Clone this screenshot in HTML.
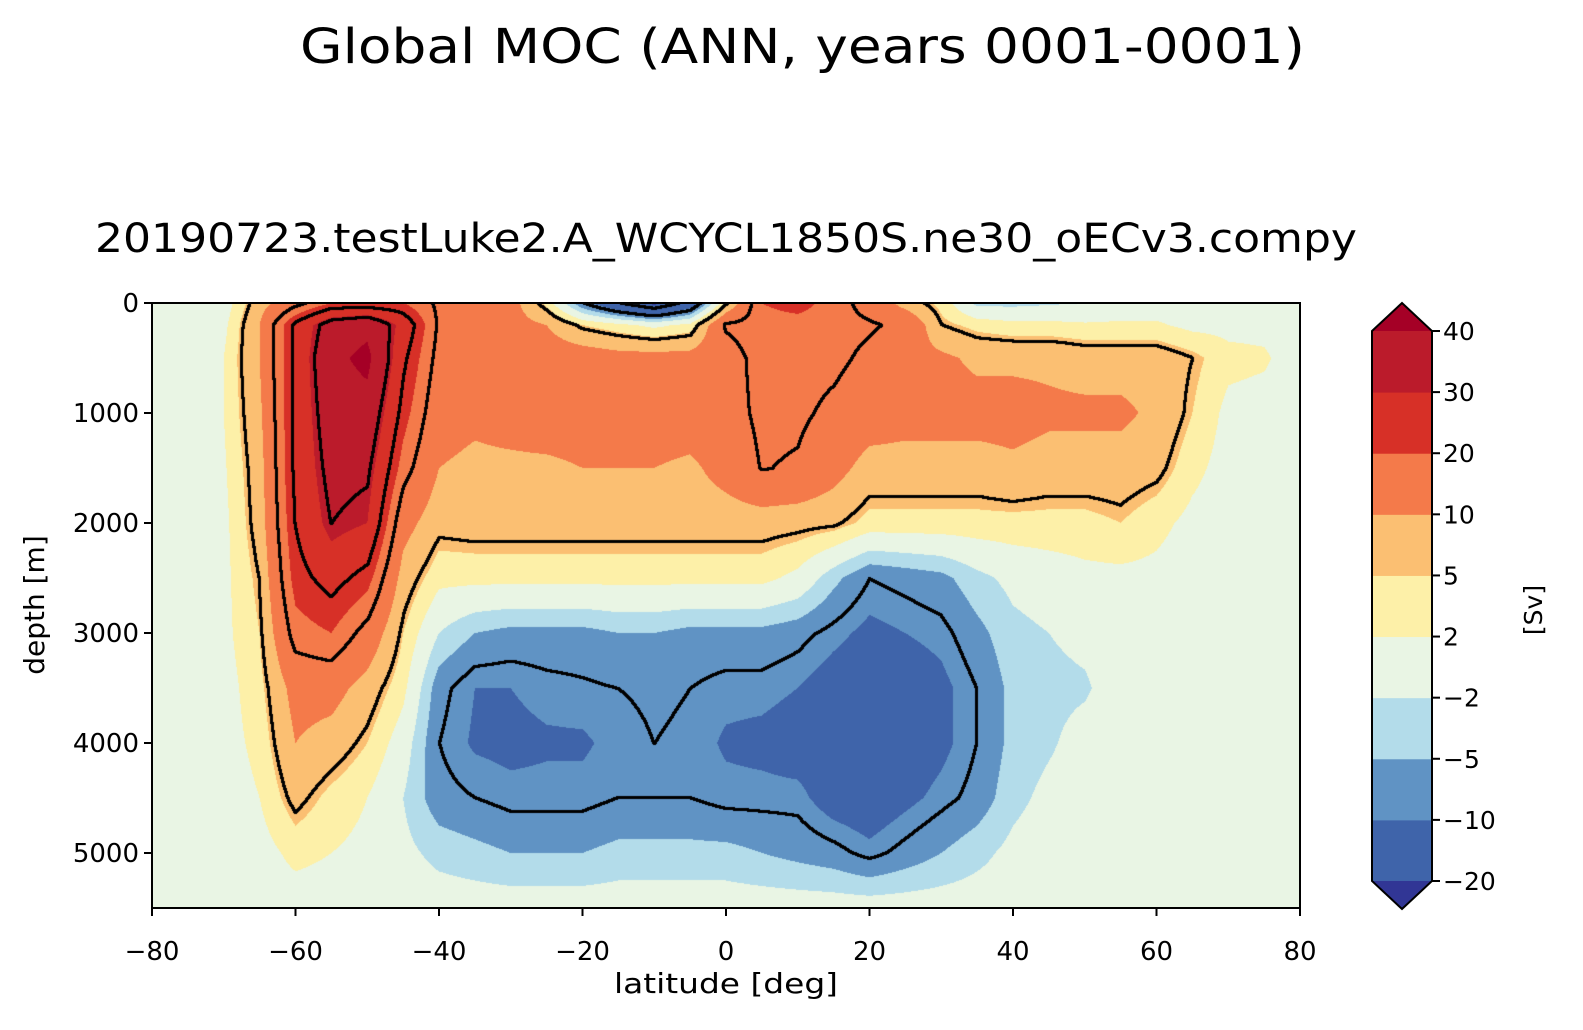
<!DOCTYPE html>
<html><head><meta charset="utf-8">
<style>
body{margin:0;background:#fff;width:1583px;height:1030px;position:relative;overflow:hidden;font-family:"DejaVu Sans","Liberation Sans",sans-serif;}
canvas{position:absolute;left:152px;top:303px;}
svg{position:absolute;left:0;top:0;}
</style></head>
<body>
<canvas id="field" width="1148" height="605"></canvas>
<svg id="ov" width="1583" height="1030">
<text x="300" y="63" font-size="48" textLength="1005" lengthAdjust="spacingAndGlyphs">Global MOC (ANN, years 0001-0001)</text>
<text x="95" y="252" font-size="40" textLength="1262" lengthAdjust="spacingAndGlyphs">20190723.testLuke2.A_WCYCL1850S.ne30_oECv3.compy</text>
<text x="614" y="993" font-size="28" textLength="224" lengthAdjust="spacingAndGlyphs">latitude [deg]</text>
<text x="44" y="605" font-size="28" text-anchor="middle" transform="rotate(-90 44 605)">depth [m]</text>
<text x="1542" y="610" font-size="25" text-anchor="middle" transform="rotate(-90 1542 610)">[Sv]</text>
<rect x="152" y="303" width="1148" height="605" fill="none" stroke="#000" stroke-width="2"/>
<g id="axes"></g>
<g id="cbar"></g>
</svg>
<script>
const lats=[-80,-75,-70,-65,-60,-55,-50,-45,-40,-35,-30,-25,-20,-15,-10,-5,0,5,10,15,20,25,30,35,40,45,50,55,60,65,70,75,80];
const depths=[0,200,500,1000,1500,2000,2500,3000,3500,4000,4500,5000,5500];
// moc[depthIndex][latIndex] in Sv
const moc=[
[0,0,0,8,14,20,20,20,15,12,12,4,-8,-16,-22,-14,5,20,22,18,14,8,4,-3,-3,-2.5,-2,0,0,0,0,0,0],
[0,0,1,10,25,35,38,28,15,13,12,10,5,3,1,3,16.5,18,18,17.5,16.5,15,6,4,3,3,2.5,2.5,2.5,1,1,1,0],
[0,0,2,10,25,38,42,25,14,12,13,13,13,12,12,12,14,17.5,17.5,17,15,12,11,9,9,9,8,8,8,6,3,2.5,0],
[0,0,2,9,25,36,37,22,12,11,12,13,13,13,13,13,14,17,16.8,15,13,12,12,12,12,11,11,11,9,5,1,0.5,0],
[0,0,1.5,8,25,34,33,18,10,9,9,9,10,10,10,9,12,16.2,15.5,12,8,8,8,8,9,8,8,8,7,3,0.5,0,0],
[0,0,1,7.5,24,32,30,12,7,7.5,7.5,7.5,7.5,7.5,7.5,7.5,7.5,7.5,7,6.5,4,4,4,4,4,4,4,5,3,1,0,0,0],
[0,0,1,6,22,26,22,8,3,3,3,3,3,3,3,3,3,3,1,-4,-8,-7,-6,-3,-1,0,1,1,1,0,0,0,0],
[0,0,1,5,18,20,14,5,-2,-5,-6,-6,-6,-5,-5,-6,-6,-6,-7,-9,-11,-10,-9,-6,-3,-2,-1,0,0,0,0,0,0],
[0,0,0.5,4,12,12,8,3,-7,-10,-10,-9,-8.5,-8,-7.5,-8,-9,-9,-10,-12,-13,-12.5,-11,-8,-4,-3,-2.5,0,0,0,0,0,0],
[0,0,0.5,3,10,8,5,0,-8,-10.5,-11,-10.5,-10.5,-9,-8,-8.5,-10.5,-11,-12,-13,-14,-13,-11,-8,-4,-2.5,-0.5,0,0,0,0,0,0],
[0,0,0,2,7,4,2,-2,-7,-8,-9,-9,-9,-8,-8,-8,-9,-9,-9,-12,-13,-11,-9,-7,-3,-1,0,0,0,0,0,0,0],
[0,0,0,0.5,3,2,1,-1,-3,-4,-5,-5,-5,-4,-4,-4,-4,-5,-6,-7,-9,-7,-5,-3,-1,0,0,0,0,0,0,0,0],
[0,0,0,0,0,0,0,0,0,0,0,0,0,0,0,0,0,0,0,0,0,0,0,0,0,0,0,0,0,0,0,0,0]
];
const levels=[-20,-10,-5,-2,2,5,10,20,30,40];
const colors=["#313695","#3f64aa","#6093c4","#b3dcea","#e9f5e4","#fdf0a8","#fbbf72","#f47a4a","#d73027","#bb1b2b","#a50026"];
const lineLevels=[-16,-8,6,16,24,32];
const xTicks=[-80,-60,-40,-20,0,20,40,60,80];
const yTicks=[0,1000,2000,3000,4000,5000];

const X0=152,X1=1300,Y0=303,Y1=908,DMAX=5500;
const xs=l=>X0+(l-lats[0])/(lats[lats.length-1]-lats[0])*(X1-X0);
const ys=d=>Y0+d/DMAX*(Y1-Y0);

function sample(lat,d){
  let i=0;while(i<lats.length-2&&lat>lats[i+1])i++;
  let j=0;while(j<depths.length-2&&d>depths[j+1])j++;
  const tx=Math.min(1,Math.max(0,(lat-lats[i])/(lats[i+1]-lats[i])));
  const ty=Math.min(1,Math.max(0,(d-depths[j])/(depths[j+1]-depths[j])));
  const a=moc[j][i],b=moc[j][i+1],c=moc[j+1][i],e=moc[j+1][i+1];
  return (a*(1-tx)+b*tx)*(1-ty)+(c*(1-tx)+e*tx)*ty;
}
function hex(h){return [parseInt(h.substr(1,2),16),parseInt(h.substr(3,2),16),parseInt(h.substr(5,2),16)];}
const rgb=colors.map(hex);
(function(){
  const cv=document.getElementById('field'),ctx=cv.getContext('2d');
  const W=cv.width,H=cv.height,img=ctx.createImageData(W,H);
  const cls=new Int8Array(W*H),lc=new Int8Array(W*H);
  for(let y=0;y<H;y++)for(let x=0;x<W;x++){
    const lat=lats[0]+(x+0.5)/W*(lats[lats.length-1]-lats[0]);
    const d=(y+0.5)/H*DMAX;
    const v=sample(lat,d);
    let k=0;while(k<levels.length&&v>=levels[k])k++;
    cls[y*W+x]=k;
    let m=0;while(m<lineLevels.length&&v>=lineLevels[m])m++;
    lc[y*W+x]=m;
  }
  const offs=[];
  for(let dy=-3;dy<=3;dy++)for(let dx=-3;dx<=3;dx++)if(dx*dx+dy*dy<=6)offs.push([dx,dy]);
  for(let y=0;y<H;y++)for(let x=0;x<W;x++){
    const p=y*W+x;let c=rgb[cls[p]];
    let edge=false;
    for(const o of offs){
      const xx=x+o[0],yy=y+o[1];
      if(xx<0||yy<0||xx>=W||yy>=H)continue;
      if(lc[yy*W+xx]!==lc[p]&&(lc[yy*W+xx]>lc[p]||o[0]*o[0]+o[1]*o[1]<=2)){edge=true;break;}
    }
    if(edge)c=[0,0,0];
    img.data[p*4]=c[0];img.data[p*4+1]=c[1];img.data[p*4+2]=c[2];img.data[p*4+3]=255;
  }
  ctx.putImageData(img,0,0);
})();
const NS='http://www.w3.org/2000/svg';
function mk(tag,attrs,parent){const e=document.createElementNS(NS,tag);for(const k in attrs)e.setAttribute(k,attrs[k]);parent.appendChild(e);return e;}
const axes=document.getElementById('axes');
xTicks.forEach(t=>{
  const x=xs(t);
  const ln=mk('line',{x1:x,x2:x,y1:Y1,y2:Y1+8,stroke:'#000','stroke-width':2},axes);
  
  
  const tx=mk('text',{x:x,y:960,'font-size':26,'text-anchor':'middle'},axes);
  tx.textContent=String(t).replace('-','\u2212');
  
  
});
yTicks.forEach(t=>{
  const y=ys(t);
  const ln=mk('line',{x1:X0-8,x2:X0,y1:y,y2:y,stroke:'#000','stroke-width':2},axes);
  
  
  const tx=mk('text',{x:X0-13,y:y+9,'font-size':26,'text-anchor':'end'},axes);
  tx.textContent=t;
  
  
});
// colorbar
const cb=document.getElementById('cbar');
const CX0=1372,CX1=1432,CT=331,CB=881;
const n=levels.length-1;const step=(CB-CT)/n;
const cy=i=>CB-i*step;
for(let i=0;i<n;i++){
  const r=mk('rect',{x:CX0,y:cy(i+1),width:CX1-CX0,height:step+0.5,fill:colors[i+1]},cb);
  
  
}
const tt=mk('polygon',{points:`${CX0},${CT} ${CX1},${CT} ${(CX0+CX1)/2},${CT-28}`,fill:colors[colors.length-1]},cb);


const tb=mk('polygon',{points:`${CX0},${CB} ${CX1},${CB} ${(CX0+CX1)/2},${CB+28}`,fill:colors[0]},cb);


const ol=mk('polygon',{points:`${CX0},${CT} ${(CX0+CX1)/2},${CT-28} ${CX1},${CT} ${CX1},${CB} ${(CX0+CX1)/2},${CB+28} ${CX0},${CB}`,fill:'none',stroke:'#000','stroke-width':2},cb);


levels.forEach((lv,i)=>{
  const y=cy(i);
  const ln=mk('line',{x1:CX1,x2:CX1+8,y1:y,y2:y,stroke:'#000','stroke-width':2},cb);
  
  
  const tx=mk('text',{x:CX1+11,y:y+9,'font-size':25},cb);
  tx.textContent=String(lv).replace('-','\u2212');
  
  
});
</script>
</body></html>
